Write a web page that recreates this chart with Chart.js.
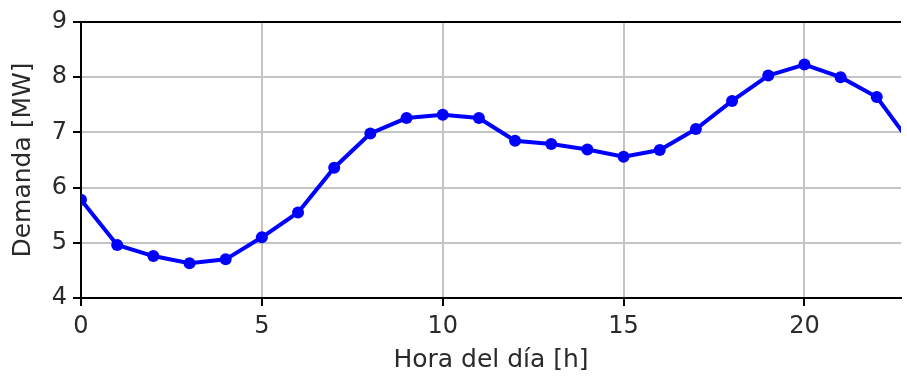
<!DOCTYPE html>
<html>
<head>
<meta charset="utf-8">
<title>Demanda horaria</title>
<script src="https://cdn.jsdelivr.net/npm/chart.js@4"></script>
<style>
  html, body { margin: 0; padding: 0; background: #fff; }
  #wrap { width: 907px; height: 376px; }
</style>
</head>
<body>
<div id="wrap"><canvas id="c" width="907" height="376"></canvas></div>
<script>
// Hourly electricity demand over one day
const hours = [0, 1, 2, 3, 4, 5, 6, 7, 8, 9, 10, 11, 12, 13, 14, 15, 16, 17, 18, 19, 20, 21, 22, 23];
const demandMW = [5.78, 4.96, 4.76, 4.63, 4.70, 5.10, 5.55, 6.36, 6.98, 7.26, 7.32, 7.26,
                  6.85, 6.79, 6.69, 6.56, 6.68, 7.06, 7.57, 8.03, 8.23, 8.00, 7.64, 6.75];
const xTicks = [0, 5, 10, 15, 20];
const yTicks = [4, 5, 6, 7, 8, 9];

const FONT = 'DejaVu Sans';
const TEXT = '#2a2a2a';

// Upper spine of the axes box
const topSpine = {
  id: 'topSpine',
  afterDraw(chart) {
    const { ctx, chartArea } = chart;
    ctx.save();
    ctx.strokeStyle = '#000';
    ctx.lineWidth = 2;
    ctx.beginPath();
    ctx.moveTo(chartArea.left - 1, chartArea.top);
    ctx.lineTo(chartArea.right, chartArea.top);
    ctx.stroke();
    ctx.restore();
  }
};

const axisCommon = {
  type: 'linear',
  grid: { color: '#c4c4c4', lineWidth: 2, tickColor: '#000', tickLength: 8, tickWidth: 2 },
  border: { color: '#000', width: 2 },
};

new Chart(document.getElementById('c'), {
  type: 'scatter',
  data: {
    datasets: [{
      data: hours.map((h, i) => ({ x: h, y: demandMW[i] })),
      showLine: true,
      borderColor: '#0000ff',
      backgroundColor: '#0000ff',
      borderWidth: 4,
      pointRadius: 6,
      pointBorderWidth: 0,
      tension: 0,
      clip: 0
    }]
  },
  options: {
    responsive: false,
    animation: false,
    devicePixelRatio: 1,
    layout: { padding: { top: 22, right: 0, left: 0, bottom: 0 } },
    plugins: { legend: { display: false }, tooltip: { enabled: false } },
    scales: {
      x: {
        ...axisCommon,
        min: 0,
        max: 22.67,
        afterBuildTicks: s => { s.ticks = xTicks.map(v => ({ value: v })); },
        ticks: { font: { family: FONT, size: 24 }, color: TEXT, padding: 6, maxRotation: 0 },
        title: { display: true, text: 'Hora del día [h]', font: { family: FONT, size: 25 }, color: TEXT, padding: { top: 0, bottom: 1 } },
        afterFit: s => { s.height = 78; }
      },
      y: {
        ...axisCommon,
        min: 4,
        max: 9,
        afterBuildTicks: s => { s.ticks = yTicks.map(v => ({ value: v })); },
        ticks: { font: { family: FONT, size: 24 }, color: TEXT, padding: 6 },
        title: { display: true, text: 'Demanda [MW]', font: { family: FONT, size: 25 }, color: TEXT, padding: { top: 8, bottom: 0 } },
        afterFit: s => { s.width = 81; }
      }
    }
  },
  plugins: [topSpine]
});
</script>
</body>
</html>
